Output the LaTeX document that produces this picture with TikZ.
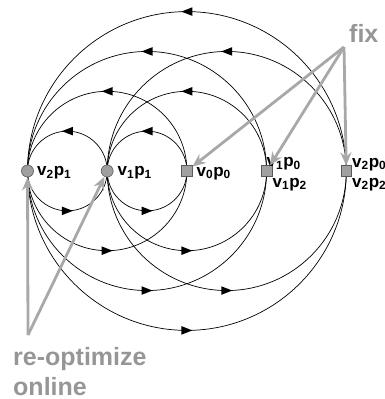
\documentclass[tikz,border=0pt]{standalone}
\usepackage{fontspec}
\setmainfont{Liberation Sans}
\usetikzlibrary{decorations.markings,arrows.meta,backgrounds}
\definecolor{nodefill}{RGB}{160,160,160}
\definecolor{nodeedge}{RGB}{90,90,90}
\definecolor{hintline}{RGB}{168,168,168}
\definecolor{hinttext}{RGB}{150,150,150}
\begin{document}
\begin{tikzpicture}[x=1pt,y=-1pt,
  flow/.style={draw=black, line width=0.7pt, postaction={decorate},
    decoration={markings, mark=at position 0.5 with {\fill[black] (5.5pt,0pt) -- (-5.5pt,4.3pt) -- (-5.5pt,-4.3pt) -- cycle;}}},
  roundstate/.style={circle, draw=nodeedge, fill=nodefill, line width=0.6pt, minimum size=12pt, inner sep=0pt},
  squarestate/.style={rectangle, draw=nodeedge, fill=nodefill, line width=0.6pt, minimum size=10.5pt, inner sep=0pt},
  statelabel/.style={inner sep=0pt, font=\fontsize{17}{20}\selectfont\bfseries, anchor=base west},
  hint/.style={draw=hintline, line width=2.8pt, -{Stealth[length=13pt,width=11pt]}},
  hintlabel/.style={inner sep=0pt, text=hinttext, font=\fontsize{25}{30}\selectfont\bfseries, align=left, anchor=base west}
]
\useasboundingbox (0,0) rectangle (384,399);

\node[roundstate] (v2p1) at (27.5,171) {};
\node[roundstate] (v1p1) at (107.2,171) {};
\node[squarestate] (v0p0) at (186.9,171) {};
\node[squarestate] (v1p0) at (266.6,171) {};
\node[squarestate] (v2p0) at (346.3,171) {};

\begin{scope}[on background layer]
  % small circles
  \draw[flow] (v1p1.center) arc[start angle=0, end angle=-180, radius=39.85];
  \draw[flow] (v2p1.center) arc[start angle=180, end angle=0, radius=39.85];
  \draw[flow] (v0p0.center) arc[start angle=0, end angle=-180, radius=39.85];
  \draw[flow] (v1p1.center) arc[start angle=180, end angle=0, radius=39.85];
  % r = 80
  \draw[flow] (v0p0.center) arc[start angle=0, end angle=-180, radius=79.7];
  \draw[flow] (v2p1.center) arc[start angle=180, end angle=0, radius=79.7];
  \draw[flow] (v1p0.center) arc[start angle=0, end angle=-180, radius=79.7];
  \draw[flow] (v1p1.center) arc[start angle=180, end angle=0, radius=79.7];
  % r = 120
  \draw[flow] (v1p0.center) arc[start angle=0, end angle=-180, radius=119.55];
  \draw[flow] (v2p1.center) arc[start angle=180, end angle=0, radius=119.55];
  \draw[flow] (v2p0.center) arc[start angle=0, end angle=-180, radius=119.55];
  \draw[flow] (v1p1.center) arc[start angle=180, end angle=0, radius=119.55];
  % r = 160
  \draw[flow] (v2p0.center) arc[start angle=0, end angle=-180, radius=159.4];
  \draw[flow] (v2p1.center) arc[start angle=180, end angle=0, radius=159.4];
\end{scope}

\node[statelabel] (l21) at (37,175.5) {v\textsubscript{2}p\textsubscript{1}};
\node[statelabel] (l11) at (117.5,175.5) {v\textsubscript{1}p\textsubscript{1}};
\node[statelabel] (l00) at (196.5,176) {v\textsubscript{0}p\textsubscript{0}};
\node[statelabel] (l10) at (266.5,166.5) {v\textsubscript{1}p\textsubscript{0}};
\node[statelabel] (l12) at (272.5,187) {v\textsubscript{1}p\textsubscript{2}};
\node[statelabel] (l20) at (352,167) {v\textsubscript{2}p\textsubscript{0}};
\node[statelabel] (l22) at (352,187) {v\textsubscript{2}p\textsubscript{2}};

\coordinate (fixapex) at (344,47);
\coordinate (reoptapex) at (28,335);
\draw[hint] (fixapex) -- (v0p0);
\draw[hint] (fixapex) -- (v1p0);
\draw[hint] (fixapex) -- (v2p0);
\draw[hint] (reoptapex) -- (v2p1);
\draw[hint] (reoptapex) -- (v1p1);

\node[hintlabel] (fixtext) at (349,42) {fix};
\node[hintlabel] (reopttext) at (13,395) {re-optimize\\online};
\end{tikzpicture}
\end{document}
